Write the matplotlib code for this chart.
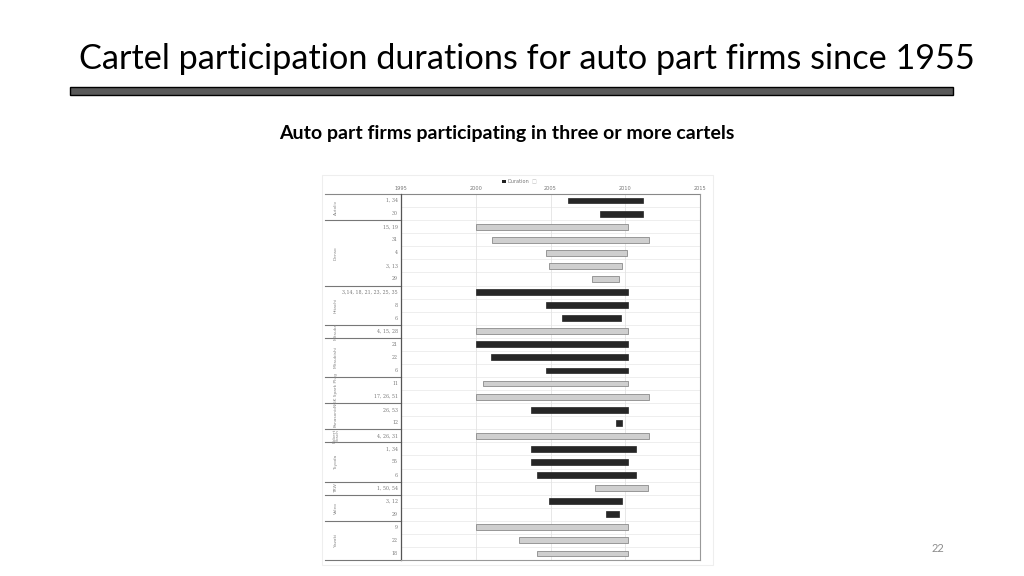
import numpy as np
import matplotlib
matplotlib.use('Agg')
import matplotlib.pyplot as plt
from matplotlib.patches import Rectangle
import matplotlib.transforms as mtransforms

W, H = 1024, 576

# firm groups (name, number of rows)
firms = ['Autoliv', 'Denso', 'Hitachi', 'Mitsuba', 'Mitsubishi', 'NGK Spark Plug',
         'Panasonic', 'Robert\nBosch', 'Toyoda', 'TRW', 'Valeo', 'Yazaki']
firm_rows = [2, 5, 3, 1, 3, 2, 2, 1, 3, 1, 2, 3]

# cartel ids for every row
cartels = ['1, 34', '30',
           '15, 19', '31', '4', '3, 13', '29',
           '3,14, 18, 21, 23, 25, 35', '8', '6',
           '4, 15, 28',
           '21', '22', '6',
           '11', '17, 26, 51',
           '26, 53', '12',
           '4, 26, 31',
           '1, 34', '55', '6',
           '1, 50, 54',
           '3, 12', '29',
           '9', '22', '18']

start = [2006.2, 2008.3,
         2000.0, 2001.1, 2004.7, 2004.9, 2007.8,
         2000.0, 2004.7, 2005.8,
         2000.0,
         2000.0, 2001.0, 2004.7,
         2000.5, 2000.0,
         2003.7, 2009.35,
         2000.0,
         2003.7, 2003.7, 2004.1,
         2008.0,
         2004.9, 2008.7,
         2000.0, 2002.9, 2004.1]
end = [2011.2, 2011.2,
       2010.2, 2011.6, 2010.1, 2009.8, 2009.6,
       2010.2, 2010.2, 2009.7,
       2010.2,
       2010.2, 2010.2, 2010.2,
       2010.2, 2011.6,
       2010.2, 2009.8,
       2011.6,
       2010.7, 2010.2, 2010.7,
       2011.5,
       2009.8, 2009.6,
       2010.2, 2010.2, 2010.2]
# 1 = dark bar, 0 = light bar
dark = [1, 1,
        0, 0, 0, 0, 0,
        1, 1, 1,
        0,
        1, 1, 1,
        0, 0,
        1, 1,
        0,
        1, 1, 1,
        0,
        1, 1,
        0, 0, 0]

years = [1995, 2000, 2005, 2010, 2015]

fig = plt.figure(figsize=(W / 100, H / 100), dpi=100)
fig.patch.set_facecolor('white')


def fx(px):
    return px / W


def fy(py):
    return 1 - py / H


# slide title and bar
fig.text(fx(79), fy(59), 'Cartel participation durations for auto part firms since 1955',
         fontsize=24.65, family='Lato', color='black', ha='left', va='center')
fig.patches.append(Rectangle((fx(70), fy(95.3)), fx(883), (95.3 - 87.3) / H,
                             transform=fig.transFigure, facecolor='#595959',
                             edgecolor='black', linewidth=1.0))
fig.text(fx(507), fy(134), 'Auto part firms participating in three or more cartels',
         fontsize=14, family='Lato', fontweight='bold', ha='center', va='center')
fig.text(fx(938), fy(549), '22', fontsize=8, family='Lato', color='#8c8c8c',
         ha='center', va='center')

# faint frame of the embedded chart
fig.patches.append(Rectangle((fx(322), fy(565)), fx(713 - 322), (565 - 175) / H,
                             transform=fig.transFigure, facecolor='none',
                             edgecolor='#eeeeee', linewidth=0.8))

# main axes
L, R, T, B = 401, 700, 194, 560
ax = fig.add_axes([fx(L), fy(B), fx(R - L), (B - T) / H])
n = len(cartels)
y = np.arange(n)
ax.set_xlim(1995, 2015)
ax.set_ylim(n - 0.5, -0.5)

for yy in np.arange(n + 1) - 0.5:
    ax.axhline(yy, color='#ebebeb', linewidth=0.6, zorder=0)
for yr in years[1:-1]:
    ax.axvline(yr, color='#e3e3e3', linewidth=0.6, zorder=0)

starts = np.array(start)
ends = np.array(end)
dk = np.array(dark) == 1
ax.barh(y[dk], (ends - starts)[dk], left=starts[dk], height=0.45,
        color='#262626', edgecolor='#262626', linewidth=0.5, zorder=3)
ax.barh(y[~dk], (ends - starts)[~dk], left=starts[~dk], height=0.45,
        color='#cfcfcf', edgecolor='#8a8a8a', linewidth=0.6, zorder=3)

ax.set_xticks(years)
ax.set_xticklabels([str(v) for v in years])
ax.xaxis.tick_top()
ax.tick_params(axis='x', length=0, labelsize=3.6, labelcolor='#777777', pad=2)
ax.set_yticks([])
for side in ['top', 'right', 'bottom']:
    ax.spines[side].set_color('#999999')
    ax.spines[side].set_linewidth(0.8)
ax.spines['top'].set_visible(False)
ax.spines['left'].set_color('#555555')
ax.spines['left'].set_linewidth(0.9)

# row and group labels on the left
trans = mtransforms.blended_transform_factory(ax.transAxes, ax.transData)
lab_x = -3.0 / (R - L)
for i, c in enumerate(cartels):
    ax.text(lab_x, i, c, transform=trans, ha='right', va='center',
            fontsize=3.4, color='#777777', family='DejaVu Serif')

left_edge = (325 - L) / (R - L)
grp_x = (336 - L) / (R - L)
row0 = 0
ax.plot([left_edge, 1], [-0.5, -0.5], transform=trans, color='#888888',
        linewidth=0.8, clip_on=False)
for name, k in zip(firms, firm_rows):
    mid = row0 + (k - 1) / 2
    ax.text(grp_x, mid, name, transform=trans, rotation=90, ha='center',
            va='center', fontsize=3.2, color='#888888', linespacing=0.9)
    row0 += k
    ax.plot([left_edge, 0], [row0 - 0.5, row0 - 0.5], transform=trans,
            color='#777777', linewidth=0.8, clip_on=False)

# legend
fig.patches.append(Rectangle((fx(502), fy(183)), fx(4), 3 / H,
                             transform=fig.transFigure, facecolor='#222222'))
fig.text(fx(507.5), fy(181.5), 'Duration', fontsize=3.6, color='#777777',
         ha='left', va='center')
fig.text(fx(532), fy(181.5), '\u25a1', fontsize=3.6, color='#bbbbbb',
         ha='left', va='center')

fig.savefig('out.png', dpi=100, facecolor='white')
